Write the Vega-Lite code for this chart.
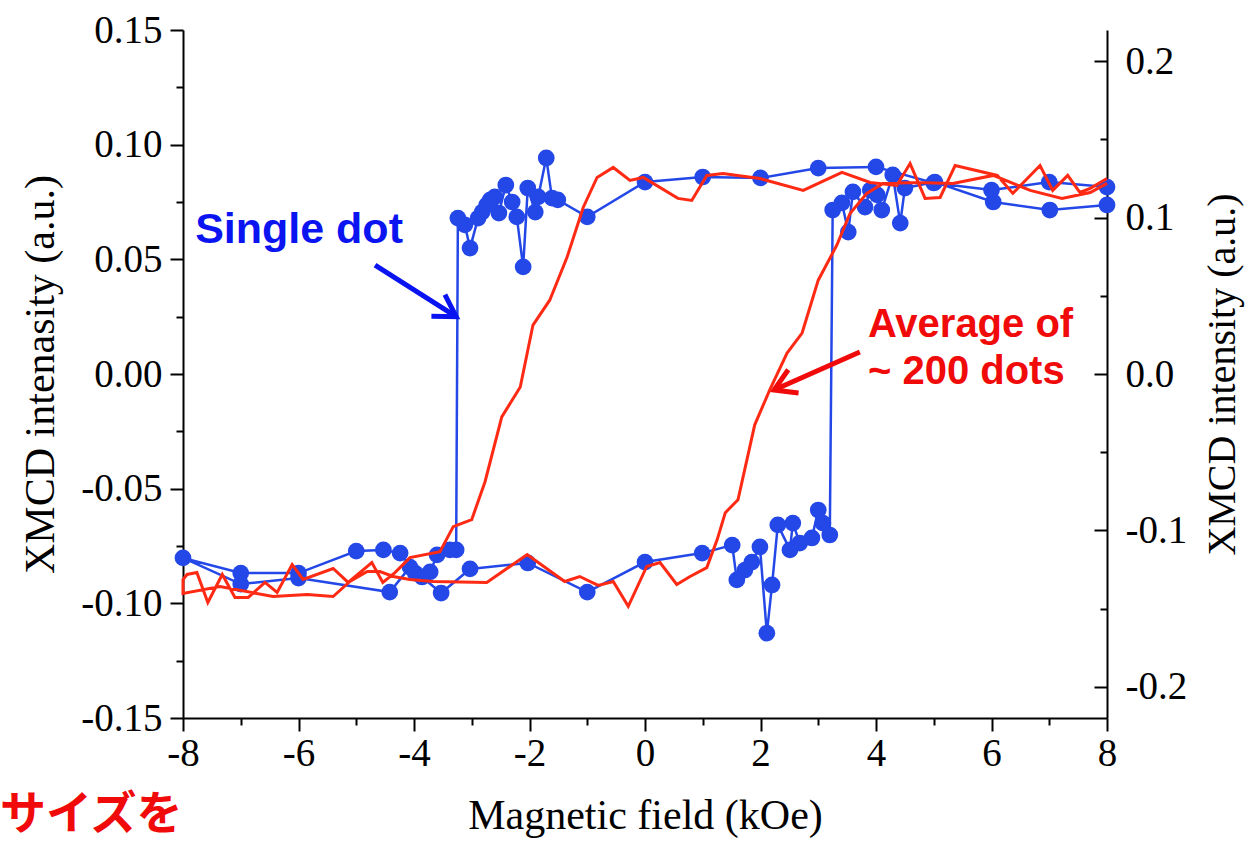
{
"$schema": "https://vega.github.io/schema/vega-lite/v6.json",
"width": 924, "height": 688,
"autosize": {"type": "none"},
"padding": {"left": 183, "top": 30, "right": 138, "bottom": 130},
"background": "white",
"datasets": {
"blue": [
{"i":1,"x":8,"y":0.0815},{"i":2,"x":7,"y":0.0837},{"i":3,"x":6,"y":0.0802},{"i":4,"x":5,"y":0.0833},{"i":5,"x":4,"y":0.0903},{"i":6,"x":3,"y":0.0898},{"i":7,"x":2,"y":0.0855},{"i":8,"x":1,"y":0.0859},{"i":9,"x":0,"y":0.0837},{"i":10,"x":-1,"y":0.0685},
{"i":11,"x":-1.51,"y":0.0759},{"i":12,"x":-1.61,"y":0.0767},{"i":13,"x":-1.71,"y":0.0942},{"i":14,"x":-1.85,"y":0.0772},{"i":15,"x":-1.9,"y":0.0706},{"i":16,"x":-2.03,"y":0.0811},{"i":17,"x":-2.11,"y":0.0467},{"i":18,"x":-2.22,"y":0.0685},{"i":19,"x":-2.3,"y":0.075},{"i":20,"x":-2.41,"y":0.0824},
{"i":21,"x":-2.53,"y":0.0702},{"i":22,"x":-2.6,"y":0.0772},{"i":23,"x":-2.68,"y":0.0759},{"i":24,"x":-2.74,"y":0.0737},{"i":25,"x":-2.82,"y":0.0706},{"i":26,"x":-2.89,"y":0.068},{"i":27,"x":-3.03,"y":0.0549},{"i":28,"x":-3.12,"y":0.065},{"i":29,"x":-3.24,"y":0.068},{"i":30,"x":-3.27,"y":-0.0767},
{"i":31,"x":-3.38,"y":-0.0767},{"i":32,"x":-3.6,"y":-0.0789},{"i":33,"x":-3.72,"y":-0.0863},{"i":34,"x":-3.98,"y":-0.0868},{"i":35,"x":-4.24,"y":-0.0781},{"i":36,"x":-4.53,"y":-0.0767},{"i":37,"x":-5,"y":-0.0772},{"i":38,"x":-6,"y":-0.0868},{"i":39,"x":-7,"y":-0.0868},{"i":40,"x":-8,"y":-0.0802},
{"i":41,"x":-7,"y":-0.0916},{"i":42,"x":-6,"y":-0.089},{"i":43,"x":-4.42,"y":-0.0951},{"i":44,"x":-4.07,"y":-0.0842},{"i":45,"x":-3.86,"y":-0.0885},{"i":46,"x":-3.53,"y":-0.0955},{"i":47,"x":-3.03,"y":-0.085},{"i":48,"x":-2.03,"y":-0.0824},{"i":49,"x":-1,"y":-0.0951},{"i":50,"x":0,"y":-0.082},
{"i":51,"x":0.99,"y":-0.0781},{"i":52,"x":1.51,"y":-0.0746},{"i":53,"x":1.59,"y":-0.0898},{"i":54,"x":1.73,"y":-0.0855},{"i":55,"x":1.85,"y":-0.082},{"i":56,"x":1.99,"y":-0.0754},{"i":57,"x":2.11,"y":-0.113},{"i":58,"x":2.2,"y":-0.092},{"i":59,"x":2.3,"y":-0.0658},{"i":60,"x":2.51,"y":-0.0767},
{"i":61,"x":2.56,"y":-0.065},{"i":62,"x":2.68,"y":-0.0737},{"i":63,"x":2.89,"y":-0.0715},{"i":64,"x":3.0,"y":-0.0593},{"i":65,"x":3.08,"y":-0.065},{"i":66,"x":3.2,"y":-0.0702},{"i":67,"x":3.25,"y":0.0715},{"i":68,"x":3.41,"y":0.0746},{"i":69,"x":3.52,"y":0.0619},{"i":70,"x":3.6,"y":0.0794},
{"i":71,"x":3.81,"y":0.0728},{"i":72,"x":3.9,"y":0.0802},{"i":73,"x":4.02,"y":0.0781},{"i":74,"x":4.1,"y":0.0715},{"i":75,"x":4.29,"y":0.0868},{"i":76,"x":4.42,"y":0.0658},{"i":77,"x":4.5,"y":0.0811},{"i":78,"x":5.02,"y":0.0837},{"i":79,"x":6.03,"y":0.075},{"i":80,"x":7.01,"y":0.0715},{"i":81,"x":8,"y":0.0737}
],
"red": [
{"i":1,"x":8,"y":0.125},{"i":2,"x":7.71,"y":0.1187},{"i":3,"x":7.53,"y":0.1161},{"i":4,"x":7.32,"y":0.127},{"i":5,"x":7.06,"y":0.1174},{"i":6,"x":6.84,"y":0.1333},{"i":7,"x":6.37,"y":0.1155},{"i":8,"x":6.1,"y":0.127},{"i":9,"x":5.37,"y":0.1333},{"i":10,"x":5.11,"y":0.1129},
{"i":11,"x":4.85,"y":0.1123},{"i":12,"x":4.59,"y":0.1346},{"i":13,"x":4.36,"y":0.1206},{"i":14,"x":3.9,"y":0.1225},{"i":15,"x":3.41,"y":0.1289},{"i":16,"x":2.74,"y":0.1174},{"i":17,"x":1.99,"y":0.125},{"i":18,"x":1.35,"y":0.1282},{"i":19,"x":1.07,"y":0.127},{"i":20,"x":0.81,"y":0.111},
{"i":21,"x":0.57,"y":0.1123},{"i":22,"x":-0.03,"y":0.1257},{"i":23,"x":-0.26,"y":0.1238},{"i":24,"x":-0.55,"y":0.1321},{"i":25,"x":-0.83,"y":0.1257},{"i":26,"x":-1.07,"y":0.1065},{"i":27,"x":-1.35,"y":0.0746},{"i":28,"x":-1.65,"y":0.0472},{"i":29,"x":-1.94,"y":0.0313},{"i":30,"x":-2.16,"y":-0.0083},
{"i":31,"x":-2.48,"y":-0.0274},{"i":32,"x":-2.77,"y":-0.0689},{"i":33,"x":-3.0,"y":-0.0931},{"i":34,"x":-3.32,"y":-0.0976},{"i":35,"x":-3.55,"y":-0.1136},{"i":36,"x":-4.07,"y":-0.1174},{"i":37,"x":-4.33,"y":-0.127},{"i":38,"x":-4.54,"y":-0.1333},{"i":39,"x":-4.73,"y":-0.1206},{"i":40,"x":-5.14,"y":-0.1333},
{"i":41,"x":-5.4,"y":-0.1244},{"i":42,"x":-5.92,"y":-0.1314},{"i":43,"x":-6.11,"y":-0.1219},{"i":44,"x":-6.37,"y":-0.1397},{"i":45,"x":-6.58,"y":-0.1333},{"i":46,"x":-6.87,"y":-0.1429},{"i":47,"x":-7.1,"y":-0.1429},{"i":48,"x":-7.32,"y":-0.1282},{"i":49,"x":-7.57,"y":-0.1461},{"i":50,"x":-7.76,"y":-0.127},
{"i":51,"x":-7.93,"y":-0.1282},{"i":52,"x":-8,"y":-0.1314},
{"i":53,"x":-8,"y":-0.1404},{"i":54,"x":-7.36,"y":-0.1359},{"i":55,"x":-6.44,"y":-0.1423},{"i":56,"x":-5.85,"y":-0.141},{"i":57,"x":-5.4,"y":-0.1423},{"i":58,"x":-5.11,"y":-0.1327},{"i":59,"x":-4.81,"y":-0.1263},{"i":60,"x":-4.59,"y":-0.1263},
{"i":61,"x":-4.36,"y":-0.1295},{"i":62,"x":-4.07,"y":-0.1314},{"i":63,"x":-3.67,"y":-0.1327},{"i":64,"x":-2.74,"y":-0.1333},{"i":65,"x":-2.04,"y":-0.1155},{"i":66,"x":-1.39,"y":-0.1327},{"i":67,"x":-1.13,"y":-0.1295},{"i":68,"x":-0.81,"y":-0.1352},{"i":69,"x":-0.55,"y":-0.1327},{"i":70,"x":-0.29,"y":-0.1486},
{"i":71,"x":0.03,"y":-0.1231},{"i":72,"x":0.26,"y":-0.1206},{"i":73,"x":0.55,"y":-0.1346},{"i":74,"x":0.78,"y":-0.1295},{"i":75,"x":1.07,"y":-0.1238},{"i":76,"x":1.25,"y":-0.1059},{"i":77,"x":1.39,"y":-0.0887},{"i":78,"x":1.61,"y":-0.0804},{"i":79,"x":1.9,"y":-0.0325},{"i":80,"x":2.16,"y":-0.0102},
{"i":81,"x":2.46,"y":0.0134},{"i":82,"x":2.72,"y":0.0262},{"i":83,"x":3.0,"y":0.06},{"i":84,"x":3.32,"y":0.0823},{"i":85,"x":3.55,"y":0.1027},{"i":86,"x":3.84,"y":0.1155},{"i":87,"x":4.12,"y":0.1219},{"i":88,"x":4.71,"y":0.1225},{"i":89,"x":5.33,"y":0.1219},{"i":90,"x":6.03,"y":0.127},
{"i":91,"x":6.67,"y":0.1174},{"i":92,"x":7.22,"y":0.1123},{"i":93,"x":7.71,"y":0.1161},{"i":94,"x":8,"y":0.1219}
],
"labels": [
{"kind":"blue","text":"Single dot","x":-7.79,"y":0.0628},
{"kind":"red","text":"Average of","x":3.86,"y":0.0214},
{"kind":"red","text":"~ 200 dots","x":3.86,"y":0.0009},
{"kind":"jp","text":"サイズを","x":-11.17,"y":-0.1923}
],
"arrows": [
{"kind":"blue","x":-4.675,"y":0.0475,"x2":-3.27,"y2":0.0250},
{"kind":"red","x":3.72,"y":0.0096,"x2":2.234,"y2":-0.007}
]
},
"layer": [
{
"layer": [
{"data": {"name": "blue"},
 "mark": {"type": "line", "color": "#2448e8", "strokeWidth": 2.5},
 "encoding": {
  "x": {"field": "x", "type": "quantitative", "scale": {"domain": [-8, 8], "nice": false, "zero": false},
    "axis": {"orient": "bottom", "title": "Magnetic field (kOe)", "values": [-8,-7,-6,-5,-4,-3,-2,-1,0,1,2,3,4,5,6,7,8],
      "labelExpr": "abs(datum.value) % 2 === 0 ? replace(format(datum.value, 'd'), '−', '-') : ''",
      "tickSize": {"condition": {"test": "abs(datum.value) % 2 === 0", "value": 13}, "value": 7},
      "labelFontSize": 39, "titleFontSize": 42, "labelPadding": 3, "titlePadding": 22, "labelFlush": false, "labelOverlap": false}},
  "y": {"field": "y", "type": "quantitative", "scale": {"domain": [-0.15, 0.15], "nice": false, "zero": false},
    "axis": {"orient": "left", "title": "XMCD intenasity (a.u.)", "values": [-0.15,-0.125,-0.1,-0.075,-0.05,-0.025,0,0.025,0.05,0.075,0.1,0.125,0.15],
      "labelExpr": "abs(round(datum.value*1000)) % 50 === 0 ? replace(format(datum.value, '.2f'), '−', '-') : ''",
      "tickSize": {"condition": {"test": "abs(round(datum.value*1000)) % 50 === 0", "value": 13}, "value": 7},
      "labelFontSize": 39, "titleFontSize": 42, "labelPadding": 8, "titlePadding": 18, "labelFlush": false, "labelOverlap": false}},
  "order": {"field": "i", "type": "quantitative"}
 }},
{"data": {"name": "blue"},
 "mark": {"type": "point", "filled": true, "size": 280, "color": "#2448e8", "opacity": 1},
 "encoding": {"x": {"field": "x", "type": "quantitative"}, "y": {"field": "y", "type": "quantitative"}}},
{"data": {"name": "arrows"}, "transform": [{"filter": "datum.kind === 'blue'"}],
 "mark": {"type": "rule", "color": "#0a14f0", "strokeWidth": 5},
 "encoding": {"x": {"field": "x", "type": "quantitative"}, "y": {"field": "y", "type": "quantitative"}, "x2": {"field": "x2"}, "y2": {"field": "y2"}}},
{"data": {"name": "arrows"}, "transform": [{"filter": "datum.kind === 'blue'"}],
 "mark": {"type": "point", "shape": "M-0.6,1L0,0L0.6,1", "filled": false, "stroke": "#0a14f0", "strokeWidth": 5, "size": 1800, "angle": 122, "opacity": 1},
 "encoding": {"x": {"field": "x2", "type": "quantitative"}, "y": {"field": "y2", "type": "quantitative"}}},
{"data": {"name": "arrows"}, "transform": [{"filter": "datum.kind === 'red'"}],
 "mark": {"type": "rule", "color": "#f00a0a", "strokeWidth": 5},
 "encoding": {"x": {"field": "x", "type": "quantitative"}, "y": {"field": "y", "type": "quantitative"}, "x2": {"field": "x2"}, "y2": {"field": "y2"}}},
{"data": {"name": "arrows"}, "transform": [{"filter": "datum.kind === 'red'"}],
 "mark": {"type": "point", "shape": "M-0.6,1L0,0L0.6,1", "filled": false, "stroke": "#f00a0a", "strokeWidth": 5, "size": 1800, "angle": 246, "opacity": 1},
 "encoding": {"x": {"field": "x2", "type": "quantitative"}, "y": {"field": "y2", "type": "quantitative"}}},
{"data": {"name": "labels"}, "transform": [{"filter": "datum.kind === 'blue'"}],
 "mark": {"type": "text", "font": "Liberation Sans", "fontWeight": "bold", "fontSize": 43, "color": "#0a14f0", "align": "left", "baseline": "middle"},
 "encoding": {"x": {"field": "x", "type": "quantitative"}, "y": {"field": "y", "type": "quantitative"}, "text": {"field": "text"}}},
{"data": {"name": "labels"}, "transform": [{"filter": "datum.kind === 'red'"}],
 "mark": {"type": "text", "font": "Liberation Sans", "fontWeight": "bold", "fontSize": 40, "color": "#f00a0a", "align": "left", "baseline": "middle"},
 "encoding": {"x": {"field": "x", "type": "quantitative"}, "y": {"field": "y", "type": "quantitative"}, "text": {"field": "text"}}},
{"data": {"name": "labels"}, "transform": [{"filter": "datum.kind === 'jp'"}],
 "mark": {"type": "text", "font": "Noto Sans CJK JP", "fontWeight": "bold", "fontSize": 46, "color": "#f00a0a", "align": "left", "baseline": "middle"},
 "encoding": {"x": {"field": "x", "type": "quantitative"}, "y": {"field": "y", "type": "quantitative"}, "text": {"field": "text"}}}
]
},
{
"data": {"name": "red"},
"mark": {"type": "line", "color": "#ff2a14", "strokeWidth": 3},
"encoding": {
 "x": {"field": "x", "type": "quantitative"},
 "y": {"field": "y", "type": "quantitative", "scale": {"domain": [-0.22, 0.22], "nice": false, "zero": false},
   "axis": {"orient": "right", "title": "XMCD intensity (a.u.)", "titleAngle": 270, "values": [-0.2,-0.15,-0.1,-0.05,0,0.05,0.1,0.15,0.2],
     "labelExpr": "abs(round(datum.value*100)) % 10 === 0 ? replace(format(datum.value, '.1f'), '−', '-') : ''",
     "tickSize": {"condition": {"test": "abs(round(datum.value*100)) % 10 === 0", "value": -13}, "value": -7},
     "labelFontSize": 39, "titleFontSize": 40, "labelPadding": 31, "titlePadding": 56, "labelFlush": false, "labelOverlap": false}},
 "order": {"field": "i", "type": "quantitative"}
}
}
],
"resolve": {"scale": {"y": "independent"}},
"config": {
 "view": {"stroke": null},
 "axis": {"domainColor": "black", "domainWidth": 2, "tickColor": "black", "tickWidth": 2, "labelFont": "Liberation Serif", "titleFont": "Liberation Serif", "labelColor": "black", "titleColor": "black", "titleFontWeight": "normal", "grid": false}
}
}
